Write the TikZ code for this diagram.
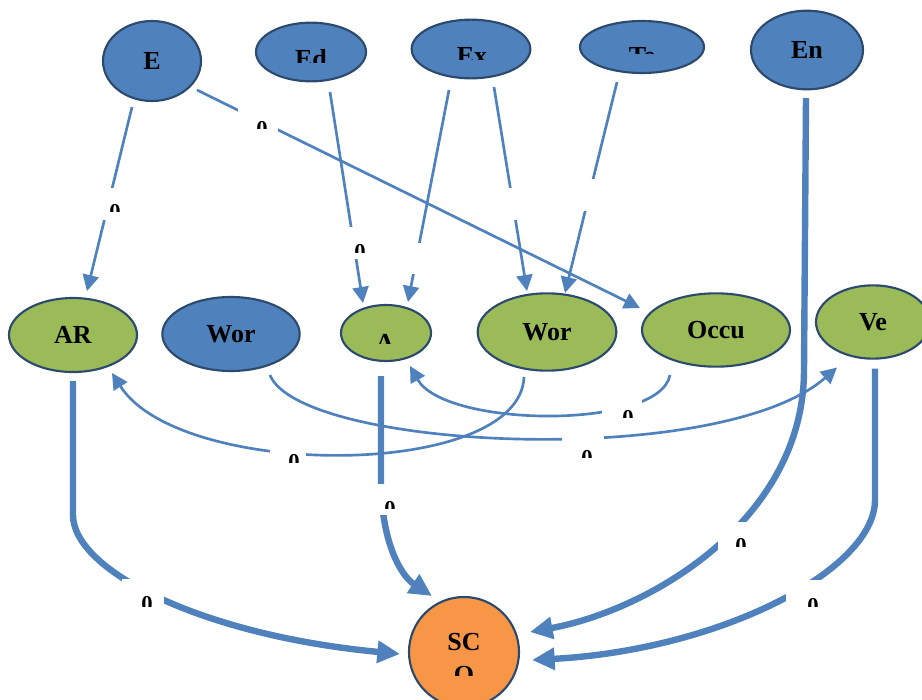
\documentclass[tikz,border=0pt]{standalone}
\usepackage{fontspec}
\setmainfont{Liberation Serif}
\usetikzlibrary{arrows.meta,shapes.geometric,calc}
\definecolor{nblue}{HTML}{4F81BD}
\definecolor{ngreen}{HTML}{9BBB59}
\definecolor{norange}{HTML}{F79646}
\definecolor{nborder}{HTML}{2C4A6E}
\definecolor{eblue}{HTML}{4F81BD}
\tikzset{
  ell/.style={ellipse, draw=nborder, line width=1.6pt, inner sep=0pt,
    font=\fontsize{19.5}{22}\selectfont\bfseries},
  bluen/.style={ell, fill=nblue},
  greenn/.style={ell, fill=ngreen},
  txt/.style={font=\fontsize{19.5}{22}\selectfont\bfseries, inner sep=0pt},
  thinedge/.style={draw=eblue, line width=2pt, -{Triangle[length=12pt,width=12pt]}},
  thickedge/.style={draw=eblue, line width=4.8pt, -{Triangle[length=17pt,width=16pt]}},
  gapbox/.style={fill=white, draw=none, inner sep=0pt, rectangle},
  zero/.style={font=\fontsize{17}{20}\selectfont\bfseries, inner sep=0pt, anchor=north},
}
\newcommand\zerolab[4]{%
  \begin{scope}
    \clip (#2-10,#3-2) rectangle (#2+10,#3+#4);
    \node[zero] (#1) at (#2,#3) {0};
  \end{scope}}
\begin{document}
\begin{tikzpicture}[x=0.75pt,y=-0.75pt]
\useasboundingbox (0,0) rectangle (922,700);
\clip (0,0) rectangle (922,700);

% top row
\node[bluen, minimum width=73.5pt, minimum height=60pt] (E) at (152,61) {E};
\node[bluen, minimum width=82.5pt, minimum height=44pt] (Ed) at (311,52) {};
\node[bluen, minimum width=89pt, minimum height=44pt] (Ex) at (471,49) {};
\node[bluen, minimum width=93pt, minimum height=39pt] (Te) at (642,47) {};
\node[bluen, minimum width=84pt, minimum height=59pt] (En) at (807,50) {En};

% middle row
\node[greenn, minimum width=96pt, minimum height=55.5pt] (AR) at (73,335) {AR};
\node[bluen, minimum width=103pt, minimum height=55.5pt] (WorB) at (231,334) {Wor};
\node[greenn, minimum width=67.5pt, minimum height=42pt] (A) at (386,333) {};
\node[greenn, minimum width=104pt, minimum height=58pt] (WorG) at (547,332) {Wor};
\node[greenn, minimum width=111pt, minimum height=55pt] (Occu) at (716,330) {Occu};
\node[greenn, minimum width=85.5pt, minimum height=55pt] (Ve) at (873,322) {Ve};

% bottom
\node[circle, draw=nborder, line width=1.6pt, fill=norange, minimum size=82.5pt, inner sep=0pt] (SCO) at (464,652) {};

% clipped node texts
\begin{scope}\clip (250,20) rectangle (372,62);
  \node[txt, anchor=base] (tEd) at (311,67) {Ed};\end{scope}
\begin{scope}\clip (410,15) rectangle (535,59);
  \node[txt, anchor=base] (tEx) at (472,64) {Ex};\end{scope}
\begin{scope}\clip (578,15) rectangle (706,53);
  \node[txt, anchor=base] (tTe) at (642,64) {Te};\end{scope}
\begin{scope}\clip (340,300) rectangle (432,343);
  \node[txt, anchor=base] (tA) at (385,351) {A};\end{scope}
\node[txt, anchor=base] (tSC) at (464,650) {SC};
\begin{scope}\clip (420,640) rectangle (510,675);
  \node[txt, anchor=base] (tO) at (464,683) {O};\end{scope}

% thin straight edges
\draw[thinedge] ([shift={(-20,46)}]E.center) -- ([shift={(14,-44)}]AR.center);
\draw[thinedge] ([shift={(45,29)}]E.center) -- ([shift={(-76,-22)}]Occu.center);
\draw[thinedge] ([shift={(19,40)}]Ed.center) -- ([shift={(-23,-30)}]A.center);
\draw[thinedge] ([shift={(-22,41)}]Ex.center) -- ([shift={(22,-31)}]A.center);
\draw[thinedge] ([shift={(23,38)}]Ex.center) -- ([shift={(-20,-41)}]WorG.center);
\draw[thinedge] ([shift={(-25,35)}]Te.center) -- ([shift={(18,-39)}]WorG.center);

% thin curved edges
\draw[thinedge] ([shift={(-23,45)}]WorG.center) .. controls (520,480) and (180,480) .. ([shift={(39,38)}]AR.center);
\draw[thinedge] ([shift={(-46,45)}]Occu.center) .. controls (660,430) and (445,428) .. ([shift={(24,33)}]A.center);
\draw[thinedge] ([shift={(39,41)}]WorB.center) .. controls (300,450) and (720,470) .. ([shift={(-36,45.5)}]Ve.center);

% thick edges
\draw[thickedge] ([shift={(0,46)}]AR.center) -- (73,515) .. controls (73,570) and (200,635) .. ([shift={(-64,2)}]SCO.center);
\draw[thickedge] ([shift={(-5,43)}]A.center) -- (381,480) .. controls (381,540) and (400,575) .. ([shift={(-32,-56)}]SCO.center);
\draw[thickedge] ([shift={(-1,48)}]En.center) -- (804,370) .. controls (804,520) and (650,610) .. ([shift={(66,-20)}]SCO.center);
\draw[thickedge] ([shift={(2,46.5)}]Ve.center) -- (875,500) .. controls (875,570) and (720,650) .. ([shift={(68,8)}]SCO.center);

% label gaps
\node[gapbox, minimum width=22.5pt, minimum height=24pt] (g1) at (109,204) {};
\node[gapbox, minimum width=30pt, minimum height=18pt] (g2) at (258,120) {};
\node[gapbox, minimum width=18pt, minimum height=24pt] (g3) at (357,243) {};
\node[gapbox, minimum width=18pt, minimum height=23.25pt] (g4) at (416,258) {};
\node[gapbox, minimum width=18pt, minimum height=24pt] (g5) at (514,204) {};
\node[gapbox, minimum width=18pt, minimum height=24pt] (g6) at (589,195) {};
\node[gapbox, minimum width=27pt, minimum height=15pt] (g7) at (288,452) {};
\node[gapbox, minimum width=30pt, minimum height=18pt] (g8) at (622,406) {};
\node[gapbox, minimum width=31.5pt, minimum height=18pt] (g9) at (583,447) {};
\node[gapbox, minimum width=19.5pt, minimum height=23.25pt] (g10) at (385,499) {};
\node[gapbox, minimum width=31.5pt, minimum height=22.5pt] (g11) at (143,594) {};
\node[gapbox, minimum width=27pt, minimum height=24pt] (g12) at (736,538) {};
\node[gapbox, minimum width=30pt, minimum height=22.5pt] (g13) at (806,595) {};

% labels (clipped)
\zerolab{z1}{115}{204}{7}
\zerolab{z2}{262}{121}{7}
\zerolab{z3}{360}{244}{8}
\zerolab{z7}{294}{454}{8}
\zerolab{z8}{628}{410}{7}
\zerolab{z9}{587}{450}{7}
\zerolab{z10}{390}{501}{7}
\zerolab{z11}{147}{596}{10}
\zerolab{z12}{741}{538}{8}
\zerolab{z13}{813}{598}{8}
\end{tikzpicture}
\end{document}
